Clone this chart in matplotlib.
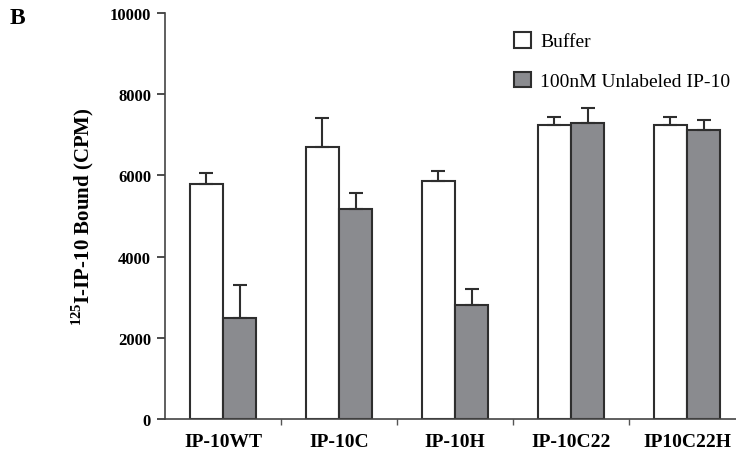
import numpy as np
import matplotlib
matplotlib.use("Agg")
import matplotlib.pyplot as plt

# datos
categorias = ["IP-10WT", "IP-10C", "IP-10H", "IP-10C22", "IP10C22H"]
buffer = [5800, 6700, 5850, 7240, 7240]
bufferErr = [260, 720, 270, 190, 190]
unlabeled = [2490, 5180, 2800, 7290, 7110]
unlabeledErr = [820, 390, 410, 370, 260]

plt.rcParams["font.family"] = ["Liberation Serif", "DejaVu Serif"]
plt.rcParams["font.weight"] = "bold"
plt.rcParams["mathtext.fontset"] = "custom"
plt.rcParams["mathtext.rm"] = "Liberation Serif:bold"
plt.rcParams["mathtext.bf"] = "Liberation Serif:bold"

fig = plt.figure(figsize=(7.36, 4.6), dpi=100)
ax = fig.add_axes([165 / 736, 40 / 460, 580 / 736, 406 / 460])

x = np.arange(len(categorias))
w = 0.285
borde = "#2e2e2e"
gris = "#8a8b8f"
errkw = dict(ecolor=borde, elinewidth=1.5, capsize=5, capthick=1.5)

ax.bar(x - w / 2, buffer, w, color="white", edgecolor=borde, linewidth=1.5,
       yerr=[np.zeros(5), bufferErr], error_kw=errkw, label="Buffer")
ax.bar(x + w / 2, unlabeled, w, color=gris, edgecolor=borde, linewidth=1.5,
       yerr=[np.zeros(5), unlabeledErr], error_kw=errkw,
       label="100nM Unlabeled IP-10")

ax.set_xlim(-0.5, 4.5)
ax.set_ylim(0, 10000)
ax.set_yticks([0, 2000, 4000, 6000, 8000, 10000])
ax.set_xticks(x + 0.5, minor=False)
ax.set_xticklabels([])
ax.set_xticks(x, minor=True)
ax.set_xticklabels(categorias, minor=True, fontsize=14, fontweight="bold")
ax.tick_params(axis="x", which="minor", length=0, pad=10)
ax.tick_params(axis="x", which="major", length=4, width=1, color="#555555")
ax.tick_params(axis="y", length=6, width=1.2, color=borde, labelsize=12, pad=4)

for s in ["top", "right"]:
    ax.spines[s].set_visible(False)
for s in ["left", "bottom"]:
    ax.spines[s].set_color("#444444")
    ax.spines[s].set_linewidth(1.2)

ax.set_ylabel(r"$^{125}\text{I-IP-10 Bound (CPM)}$", fontsize=15,
              fontweight="bold", labelpad=10)

leg = fig.legend(loc="upper left", bbox_to_anchor=(514 / 736, 1 - 33 / 460),
                 frameon=False, prop={"size": 14, "weight": "normal"},
                 handlelength=0.85, handleheight=0.85, handletextpad=0.5,
                 labelspacing=1.1, borderpad=0, borderaxespad=0)

fig.text(10 / 736, 1 - 19 / 460, "B", fontsize=17, fontweight="bold",
         va="center", ha="left")

fig.savefig("out.png", dpi=100)
